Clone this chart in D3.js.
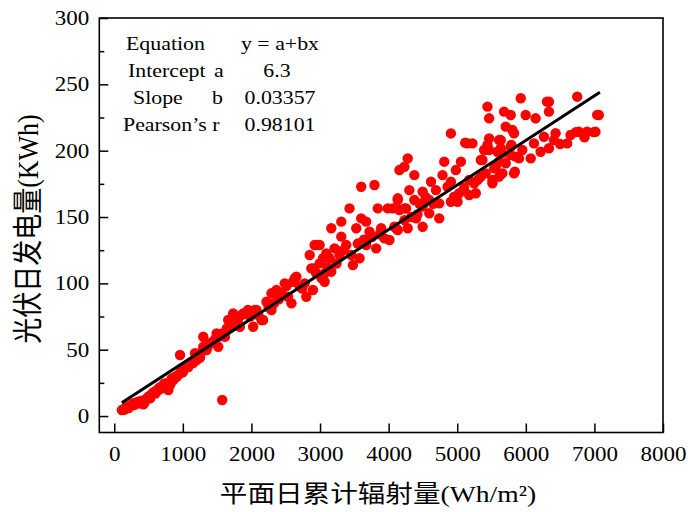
<!DOCTYPE html>
<html>
<head>
<meta charset="utf-8">
<script src="https://cdn.jsdelivr.net/npm/d3@7"></script>
<style>
  html, body { margin: 0; padding: 0; background: #fff; }
  svg { display: block; }
</style>
</head>
<body>
<svg id="chart" width="688" height="512"></svg>
<script>
// ---------------- data ----------------
const xTicks = [0, 1000, 2000, 3000, 4000, 5000, 6000, 7000, 8000];
const yTicks = [0, 50, 100, 150, 200, 250, 300];
const yMinorTicks = [25, 75, 125, 175, 225, 275];
const fit = { intercept: 6.3, slope: 0.03357, r: 0.98101, xStart: 110, xEnd: 7080 };
const tableRows = [
  ["Equation", "", "y = a+bx"],
  ["Intercept", "a", "6.3"],
  ["Slope", "b", "0.03357"],
  ["Pearson\u2019s r", "", "0.98101"]
];
const xTitle = "平面日累计辐射量(Wh/m²)";
const yTitle = "光伏日发电量(KWh)";
// [radiation (Wh/m2), daily PV energy (KWh)]
const points = [
[110,4.5],[126,5],[150,4.8],[170,6.5],[184,7],[210,6],[230,8],[257,8.3],[270,9.5],[290,8.2],
[310,10],[330,9.6],[350,10.8],[370,9.5],[400,11.5],[426,8.8],[440,10.2],[460,12.5],[480,13.5],[500,14.8],
[523,13.3],[540,16],[560,17.5],[580,18.2],[600,17],[620,19.5],[644,19.6],[660,21.5],[693,20.9],[710,23],
[730,24.5],[760,22],[789,19.6],[800,25.5],[814,23.4],[838,28.4],[860,27],[880,29.5],[911,29.6],[930,31],
[959,32.2],[959,46],[980,34],[1000,33],[1032,36],[1050,38],[1080,37],[1105,39.7],[1130,41],[1150,40],
[1177,47.3],[1202,42.2],[1220,45],[1250,44],[1270,48],[1298,59.8],[1298,52.2],[1323,50],[1347,49.7],[1370,53],
[1395,54.8],[1420,55.5],[1450,56],[1470,58],[1492,62.3],[1516,52.2],[1530,60],[1560,62],[1574,12.1],[1590,61],
[1613,59.8],[1640,66],[1661,72.4],[1686,72.4],[1700,68],[1734,77.4],[1759,69.9],[1780,74],[1800,72],[1831,67.3],
[1856,76.1],[1880,77.4],[1928,77.4],[1950,80],[1980,75],[2025,67.3],[2049,79.9],[2074,79.9],[2100,76],[2147,72.4],
[2170,72.4],[2219,86.2],[2250,82],[2292,92.5],[2292,79.9],[2330,85],[2365,95],[2400,88],[2437,92.5],[2485,100],
[2510,98],[2534,89.9],[2583,85],[2606,101.2],[2631,103.8],[2655,105],[2703,97.5],[2740,96],[2776,100],[2800,89.9],
[2849,121.4],[2873,111.3],[2897,95],[2897,111.3],[2921,128.9],[2940,108],[2970,128.9],[2994,115.1],[2994,128.9],[3020,104],
[3043,118.9],[3067,101.2],[3067,107.6],[3091,122.6],[3110,112],[3140,118.9],[3164,141.5],[3164,108.8],[3212,126.4],[3240,115],
[3285,121.4],[3310,146.5],[3310,135.2],[3340,125],[3382,128.9],[3430,156.5],[3455,121.4],[3479,113.8],[3528,141.5],[3550,130],
[3576,118.9],[3600,172.8],[3600,149],[3640,133],[3673,146.5],[3673,128.9],[3721,138.9],[3760,135],[3794,174.1],[3818,126.4],
[3842,156.5],[3870,137],[3891,141.5],[3939,133.9],[3987,156.5],[4012,132.7],[4060,156.5],[4084,142.7],[4109,141.5],[4133,162.8],
[4133,140.2],[4133,164.1],[4157,185.4],[4157,155.3],[4230,187.9],[4230,156.5],[4230,147.7],[4254,156.5],[4278,194.2],[4278,141.5],
[4302,170.3],[4330,150],[4375,162.8],[4375,181.6],[4400,149],[4420,152],[4450,160],[4496,169.1],[4496,157.8],[4496,142.7],
[4540,165],[4593,162.8],[4593,152.8],[4618,176.6],[4650,160],[4690,170.3],[4738,160.3],[4738,149],[4786,181.6],[4811,191.7],
[4859,172.8],[4908,213],[4908,176.6],[4908,161.5],[4956,165.3],[4980,185.4],[5005,161.5],[5029,167.9],[5054,191.7],[5100,172],
[5116,206],[5150,205.5],[5174,166.6],[5174,177.9],[5222,205.5],[5247,175.4],[5271,167.9],[5300,178],[5344,193],[5344,180.4],
[5368,193],[5392,200.5],[5416,182.9],[5441,233.2],[5441,204.3],[5465,224.4],[5465,209.3],[5465,200.5],[5513,175.4],[5513,177.9],
[5538,186.7],[5562,187.9],[5586,199.2],[5610,208],[5610,180.4],[5610,191.7],[5635,208],[5635,201.8],[5659,198],[5659,182.9],
[5683,229.4],[5707,218.1],[5707,190.5],[5780,226.9],[5780,203],[5790,204.3],[5780,196.7],[5804,215.6],[5828,213.1],[5828,182.9],
[5840,184.1],[5852,195.5],[5901,194.2],[5926,239.5],[5949,200.5],[5998,226.9],[6071,194.2],[6119,205.5],[6143,224.4],[6216,199.2],
[6264,210.5],[6308,237],[6337,236.9],[6337,229.4],[6337,201.8],[6410,208],[6434,213.1],[6500,205],[6603,205.5],[6652,211.8],
[6730,214],[6749,240.7],[6773,214.3],[6855,210],[6894,214.3],[6991,214],[7015,214.3],[7040,227],[7064,226.9]
];

// ---------------- layout ----------------
const svg = d3.select("#chart");
const L = 99.3, R = 663, T = 18, B = 432.5;
const SX = 1.15; // horizontal text stretch of the reference
const serif = "'Liberation Serif', 'Times New Roman', 'Noto Sans CJK SC', serif";

const x = d3.scaleLinear().domain([-218, 8000]).range([L, R]);
const y = d3.scaleLinear().domain([-12.4, 300]).range([B, T]);

// points
svg.append("g").selectAll("circle").data(points).join("circle")
  .attr("cx", d => x(d[0])).attr("cy", d => y(d[1]))
  .attr("r", 5.2).attr("fill", "#ff0000");

// fit line
svg.append("line")
  .attr("x1", x(fit.xStart)).attr("y1", y(fit.intercept + fit.slope * fit.xStart))
  .attr("x2", x(fit.xEnd)).attr("y2", y(fit.intercept + fit.slope * fit.xEnd))
  .attr("stroke", "#000").attr("stroke-width", 3);

// x axis
const gx = svg.append("g").attr("transform", `translate(0,${B})`)
  .call(d3.axisBottom(x).tickValues(xTicks).tickSize(-9).tickPadding(14).tickFormat(d3.format("d")));
gx.select(".domain").remove();
gx.selectAll("line").attr("stroke", "#000").attr("stroke-width", 1.5);
gx.selectAll("text").attr("font-family", serif).attr("font-size", 20).attr("fill", "#000")
  .attr("transform", `scale(${SX},1)`);

// y axis
const gy = svg.append("g").attr("transform", `translate(${L},0)`)
  .call(d3.axisLeft(y).tickValues(yTicks).tickSize(-9).tickPadding(8.7).tickFormat(d3.format("d")));
gy.select(".domain").remove();
gy.selectAll("line").attr("stroke", "#000").attr("stroke-width", 1.5);
gy.selectAll("text").attr("font-family", serif).attr("font-size", 20).attr("fill", "#000")
  .attr("transform", `scale(${SX},1)`);
const gym = svg.append("g").attr("transform", `translate(${L},0)`)
  .call(d3.axisLeft(y).tickValues(yMinorTicks).tickSize(-5).tickFormat(""));
gym.select(".domain").remove();
gym.selectAll("line").attr("stroke", "#000").attr("stroke-width", 1.5);

// frame
svg.append("rect").attr("x", L).attr("y", T).attr("width", R - L).attr("height", B - T)
  .attr("fill", "none").attr("stroke", "#000").attr("stroke-width", 1.6);

// helper for stretched text
function stext(tx, ty, str, size, anchor) {
  return svg.append("text")
    .attr("transform", `translate(${tx},${ty}) scale(${SX},1)`)
    .attr("text-anchor", anchor || "start")
    .attr("font-family", serif).attr("font-size", size).attr("fill", "#000")
    .text(str);
}

// stats table
const rowY = [50, 77, 104, 131];
const labelX = [126, 128, 133, 123];
const letterX = [0, 214, 212, 0];
tableRows.forEach((r, i) => {
  stext(labelX[i], rowY[i], r[0], 19, "start");
  if (r[1]) stext(letterX[i], rowY[i], r[1], 19, "start");
  stext(i === 1 ? 277 : 280, rowY[i], r[2], 19, "middle");
});

// axis titles
stext(378, 502, xTitle, 24, "middle");
svg.append("text")
  .attr("transform", "translate(38,229) rotate(-90) scale(1,1.15)")
  .attr("text-anchor", "middle")
  .attr("font-family", serif).attr("font-size", 26).attr("fill", "#000")
  .text(yTitle);
</script>
</body>
</html>
